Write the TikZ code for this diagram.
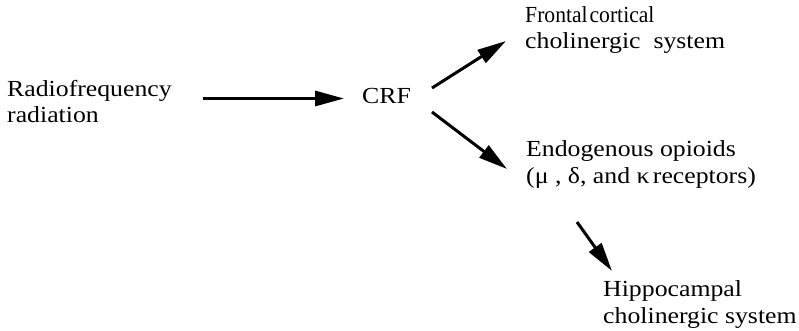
\documentclass[tikz,border=0pt]{standalone}
\usepackage{fontspec}
\setmainfont{Liberation Serif}
\usetikzlibrary{arrows.meta}
\begin{document}
\begin{tikzpicture}[x=1pt,y=-1pt,
  lbl/.style={anchor=base west,inner sep=0pt,align=left,xscale=1.12,
    font=\fontsize{23}{26.5}\selectfont},
  arr/.style={line width=3pt,-{Triangle[length=29pt,width=15pt]}}]
\useasboundingbox (0,0) rectangle (799,331);
\node[lbl] (rf) at (7,123) {Radiofrequency\\radiation};
\node[lbl] (crf) at (362,104) {CRF};
\node[lbl] (fc) at (525,49) {\scalebox{0.84}[1]{Frontal\kern2pt cortical}\\cholinergic\ \ system};
\node[lbl] (eo) at (526,183) {Endogenous opioids\\(μ , δ, and κ\kern3pt receptors)};
\node[lbl] (hc) at (603,323) {Hippocampal\\cholinergic system};
\coordinate (a1s) at (203,98.5);
\coordinate (a1e) at (344,98.5);
\coordinate (a2s) at (432,88);
\coordinate (a2e) at (506,41);
\coordinate (a3s) at (432,112);
\coordinate (a3e) at (507,169);
\coordinate (a4s) at (577,222);
\coordinate (a4e) at (612,271);
\draw[arr] (a1s) -- (a1e);
\draw[arr] (a2s) -- (a2e);
\draw[arr] (a3s) -- (a3e);
\draw[arr] (a4s) -- (a4e);
\end{tikzpicture}
\end{document}
